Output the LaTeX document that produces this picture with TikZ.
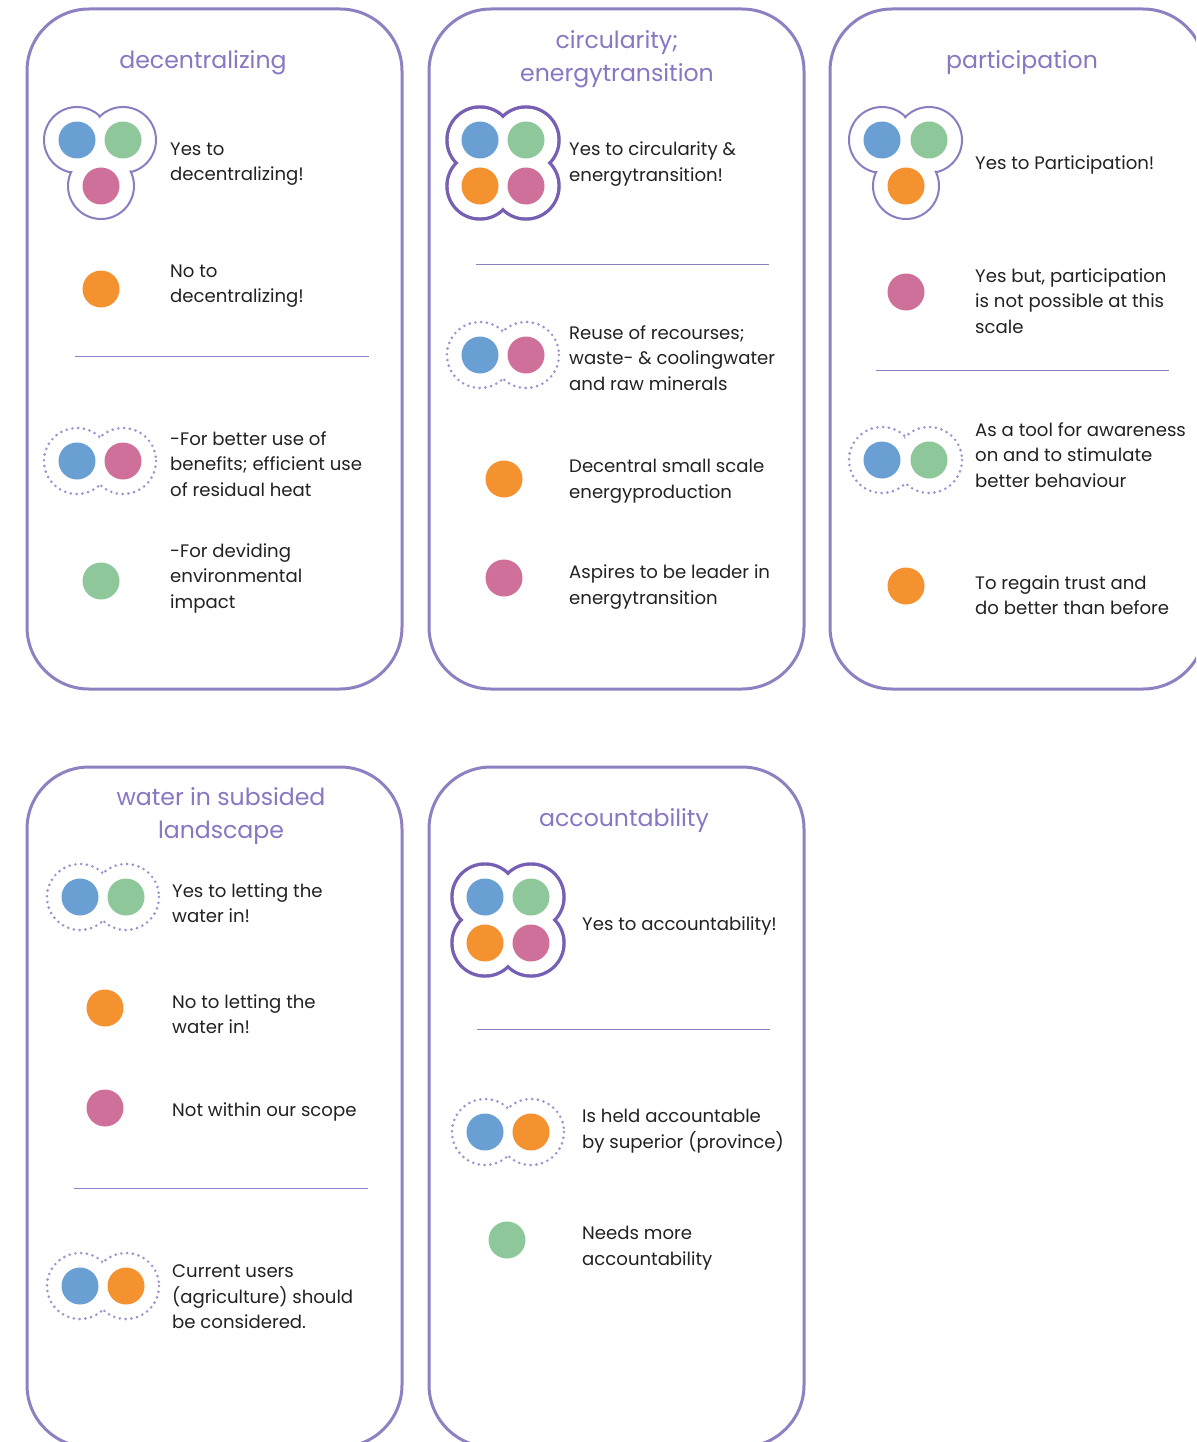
\documentclass[tikz,border=0pt]{standalone}
\usepackage{fontspec}
\setmainfont{Poppins}
\definecolor{cardc}{HTML}{8F80C2}
\definecolor{titlec}{HTML}{8A76C2}
\definecolor{ringc}{HTML}{8C7CC0}
\definecolor{ringd}{HTML}{7760B4}
\definecolor{dotc}{HTML}{A091CF}
\definecolor{bluec}{HTML}{6A9FD4}
\definecolor{greenc}{HTML}{8EC89A}
\definecolor{pinkc}{HTML}{CE7099}
\definecolor{orangec}{HTML}{F4922F}
\definecolor{txtc}{HTML}{222222}
\tikzset{
  card/.style={draw=cardc, line width=3pt, rounded corners=62pt},
  divider/.style={draw=cardc, line width=1pt},
  title/.style={text=titlec, font=\fontsize{23.6}{32.5}\selectfont, align=center, inner sep=0pt},
  body/.style={text=txtc, font=\fontsize{18.1}{25.5}\selectfont, align=left, anchor=west, inner sep=0pt},
  thinring/.style={draw=ringc, line width=2pt, fill=white},
  thickring/.style={draw=ringd, line width=3.5pt, fill=white},
  dotring/.style={draw=dotc, line width=2.9pt, line cap=round, dash pattern=on 0pt off 5.8pt, fill=white},
}
\newcommand{\ringset}[2]{%
  \foreach \p in {#2} \path[#1] \p circle (33);
  \foreach \p in {#2} \fill[white] \p circle (31.3);
}
\begin{document}
\begin{tikzpicture}[x=1pt,y=-1pt]
\useasboundingbox (0,0) rectangle (1196,1442);
\fill[white] (0,0) rectangle (1196,1442);
\clip (0,0) rectangle (1196,1442);

% cards
\draw[card] (27,9) rectangle (402,689);
\draw[card] (429,9) rectangle (804,689);
\draw[card] (830,9) rectangle (1205,689);
\draw[card] (27,767) rectangle (402,1447);
\draw[card] (429,767) rectangle (804,1447);

% dividers
\draw[divider] (75,356) -- (369,356);
\draw[divider] (476,264) -- (769,264);
\draw[divider] (876,370) -- (1169,370);
\draw[divider] (74,1188) -- (368,1188);
\draw[divider] (477,1029) -- (770,1029);

% ===== card 1 =====
\node[title] (t1) at (203,63) {decentralizing};
\ringset{thinring}{(77,140),(123,140),(101,186)}
\fill[white] (77,140) -- (123,140) -- (101,186) -- cycle;
\fill[bluec] (77,140) circle (18.5);
\fill[greenc] (123,140) circle (18.5);
\fill[pinkc] (101,186) circle (18.5);
\node[body] (a1) at (170,164) {Yes to\\decentralizing!};
\fill[orangec] (101,289) circle (18.5);
\node[body] (a2) at (170,286) {No to\\decentralizing!};
\ringset{dotring}{(77,461),(123,461)}
\fill[bluec] (77,461) circle (18.5);
\fill[pinkc] (123,461) circle (18.5);
\node[body] (a3) at (170,464) {-For better use of\\benefits; efficient use\\of residual heat};
\fill[greenc] (101,581) circle (18.5);
\node[body] (a4) at (170,578) {-For deviding\\environmental\\impact};

% ===== card 2 =====
\node[title] (t2) at (617,59) {circularity;\\energytransition};
\ringset{thickring}{(480,140),(526,140),(480,186),(526,186)}
\fill[white] (480,140) rectangle (526,186);
\fill[bluec] (480,140) circle (18.5);
\fill[greenc] (526,140) circle (18.5);
\fill[orangec] (480,186) circle (18.5);
\fill[pinkc] (526,186) circle (18.5);
\node[body] (b1) at (569,164) {Yes to circularity \&\\energytransition!};
\ringset{dotring}{(480,355),(526,355)}
\fill[bluec] (480,355) circle (18.5);
\fill[pinkc] (526,355) circle (18.5);
\node[body] (b2) at (569,358) {Reuse of recourses;\\waste- \& coolingwater\\and raw minerals};
\fill[orangec] (504,479) circle (18.5);
\node[body] (b3) at (569,481) {Decentral small scale\\energyproduction};
\fill[pinkc] (504,578) circle (18.5);
\node[body] (b4) at (569,587) {Aspires to be leader in\\energytransition};

% ===== card 3 =====
\node[title] (t3) at (1022,63) {participation};
\ringset{thinring}{(882,140),(929,140),(906,186)}
\fill[white] (882,140) -- (929,140) -- (906,186) -- cycle;
\fill[bluec] (882,140) circle (18.5);
\fill[greenc] (929,140) circle (18.5);
\fill[orangec] (906,186) circle (18.5);
\node[body] (c1) at (975,165) {Yes to Participation!};
\fill[pinkc] (906,292) circle (18.5);
\node[body] (c2) at (975,301) {Yes but, participation\\is not possible at this\\scale};
\ringset{dotring}{(882,460),(929,460)}
\fill[bluec] (882,460) circle (18.5);
\fill[greenc] (929,460) circle (18.5);
\node[body] (c3) at (975,455) {As a tool for awareness\\on and to stimulate\\better behaviour};
\fill[orangec] (906,586) circle (18.5);
\node[body] (c4) at (975,595) {To regain trust and\\do better than before};

% ===== card 4 =====
\node[title] (t4) at (221,816) {water in subsided\\landscape};
\ringset{dotring}{(80,897),(126,897)}
\fill[bluec] (80,897) circle (18.5);
\fill[greenc] (126,897) circle (18.5);
\node[body] (d1) at (172,903) {Yes to letting the\\water in!};
\fill[orangec] (105,1008) circle (18.5);
\node[body] (d2) at (172,1014) {No to letting the\\water in!};
\fill[pinkc] (105,1108) circle (18.5);
\node[body] (d3) at (172,1112) {Not within our scope};
\ringset{dotring}{(80,1286),(126,1286)}
\fill[bluec] (80,1286) circle (18.5);
\fill[orangec] (126,1286) circle (18.5);
\node[body] (d4) at (172,1297) {Current users\\(agriculture) should\\be considered.};

% ===== card 5 =====
\node[title] (t5) at (624,821) {accountability};
\ringset{thickring}{(485,897),(531,897),(485,943),(531,943)}
\fill[white] (485,897) rectangle (531,943);
\fill[bluec] (485,897) circle (18.5);
\fill[greenc] (531,897) circle (18.5);
\fill[orangec] (485,943) circle (18.5);
\fill[pinkc] (531,943) circle (18.5);
\node[body] (e1) at (582,926) {Yes to accountability!};
\ringset{dotring}{(485,1132),(531,1132)}
\fill[bluec] (485,1132) circle (18.5);
\fill[orangec] (531,1132) circle (18.5);
\node[body] (e2) at (582,1131) {Is held accountable\\by superior (province)};
\fill[greenc] (507,1240) circle (18.5);
\node[body] (e3) at (582,1248) {Needs more\\accountability};
\end{tikzpicture}
\end{document}
